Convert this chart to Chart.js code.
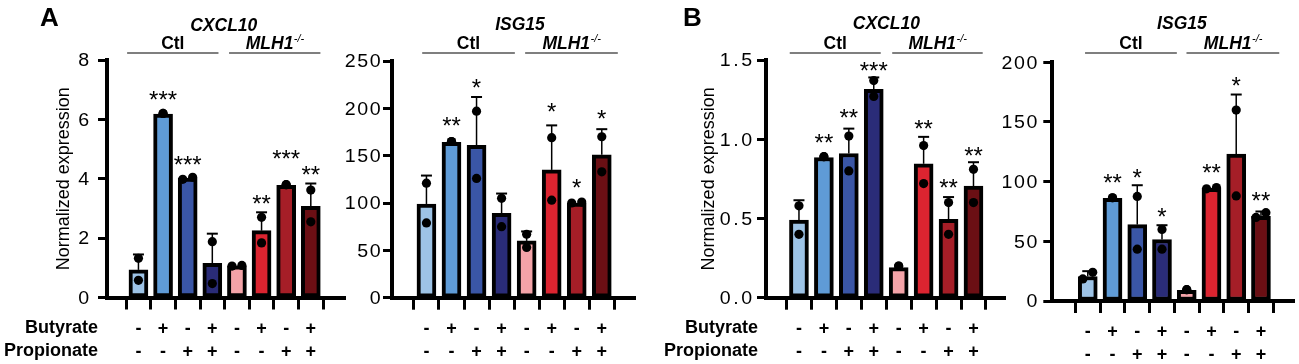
<!DOCTYPE html>
<html>
<head>
<meta charset="utf-8">
<script src="https://cdn.jsdelivr.net/npm/chart.js@4.4.1/dist/chart.umd.min.js"></script>
<style>
  html, body { margin: 0; padding: 0; background: #fff; }
  #wrap { position: relative; width: 1299px; height: 364px; overflow: hidden; }
  canvas { position: absolute; top: 0; }
</style>
</head>
<body>
<div id="wrap">
  <canvas id="c1" width="350" height="364" style="left:0px"></canvas>
  <canvas id="c2" width="300" height="364" style="left:340px"></canvas>
  <canvas id="c3" width="370" height="364" style="left:640px"></canvas>
  <canvas id="c4" width="299" height="364" style="left:1000px"></canvas>
</div>
<script>
// treatments under each bar
const butyrate   = ['-', '+', '-', '+', '-', '+', '-', '+'];
const propionate = ['-', '-', '+', '+', '-', '-', '+', '+'];

// A - CXCL10
const aCxclMean  = [0.93, 6.18, 4.02, 1.15, 1.07, 2.25, 3.78, 3.07];
const aCxclSd    = [0.52, 0, 0, 1.0, 0, 0.62, 0, 0.77];
const aCxclRep1  = [1.32, 6.2, 3.98, 1.88, 1.06, 2.70, 3.8, 3.62];
const aCxclRep2  = [0.58, 6.2, 4.05, 0.47, 1.08, 1.84, 3.8, 2.55];
const aCxclSig   = ['', '***', '***', '', '', '**', '***', '**'];
const aCxclSigAt = [0, 6.83, 4.64, 0, 0, 3.34, 4.83, 4.32];
const aCxclTicks = [0, 2, 4, 6, 8];

// A - ISG15
const aIsgMean  = [99, 164, 161, 89, 60, 135, 100, 151];
const aIsgSd    = [30, 0, 51, 21, 10, 47, 0, 27];
const aIsgRep1  = [121, 165, 197, 105, 67, 169, 100, 170];
const aIsgRep2  = [79, 165, 126, 75, 53, 103, 101, 133];
const aIsgSig   = ['', '**', '*', '', '', '*', '*', '*'];
const aIsgSigAt = [0, 187, 227, 0, 0, 201.7, 121.5, 194.8];
const aIsgTicks = [0, 50, 100, 150, 200, 250];

// B - CXCL10
const bCxclMean  = [0.49, 0.885, 0.91, 1.315, 0.19, 0.845, 0.495, 0.705];
const bCxclSd    = [0.125, 0, 0.157, 0.075, 0, 0.17, 0.14, 0.15];
const bCxclRep1  = [0.58, 0.89, 1.02, 1.37, 0.2, 0.96, 0.6, 0.81];
const bCxclRep2  = [0.4, 0.89, 0.8, 1.27, 0.2, 0.72, 0.4, 0.6];
const bCxclSig   = ['', '**', '**', '***', '', '**', '**', '**'];
const bCxclSigAt = [0, 1.012, 1.167, 1.462, 0, 1.096, 0.726, 0.927];
const bCxclTicks = [0, 0.5, 1.0, 1.5];

// B - ISG15
const bIsgMean  = [20.5, 86, 64, 51.5, 9, 94.5, 123, 71];
const bIsgSd    = [4.5, 0, 33, 12, 0, 0, 50, 4];
const bIsgRep1  = [18.5, 86.5, 87.6, 60, 9.5, 94, 160, 70];
const bIsgRep2  = [24, 86.5, 43.4, 43.4, 9.5, 95, 88, 74];
const bIsgSig   = ['', '**', '*', '*', '', '**', '*', '**'];
const bIsgSigAt = [0, 103, 107.8, 75, 0, 111.5, 184.3, 88.2];
const bIsgTicks = [0, 50, 100, 150, 200];

const barColors = ['#9dc3e6', '#5f9bd6', '#3a56a6', '#2a2c78',
                   '#f4a3a8', '#dc2430', '#a51e27', '#6b0f14'];
const FONT = '"Liberation Sans", Arial, sans-serif';
const H = 364;

const panels = [
  { id: 'c1', left: 0, width: 350, axisX: 107, axisEnd: 346.7, top: 60, bottom: 297.5,
    xMin: 0.328, xMax: 8.80, dec: 0, labelGap: 17, gene: 'CXCL10', geneY: 30.5,
    spans: [[0.54, 4.25], [4.68, 8.39]], letter: 'A', letterX: 40, ylabX: 64, rowRight: 98,
    mean: aCxclMean, sd: aCxclSd, rep1: aCxclRep1, rep2: aCxclRep2, sig: aCxclSig, sigAt: aCxclSigAt, ticks: aCxclTicks },
  { id: 'c2', left: 340, width: 300, axisX: 392, axisEnd: 635, top: 61, bottom: 297.7,
    xMin: 0.231, xMax: 8.72, dec: 0, labelGap: 10.5, gene: 'ISG15', geneY: 30,
    spans: [[0.83, 4.53], [4.94, 8.64]],
    mean: aIsgMean, sd: aIsgSd, rep1: aIsgRep1, rep2: aIsgRep2, sig: aIsgSig, sigAt: aIsgSigAt, ticks: aIsgTicks },
  { id: 'c3', left: 640, width: 370, axisX: 766, axisEnd: 1006.7, top: 60, bottom: 297.7,
    xMin: 0.278, xMax: 8.68, dec: 1, labelGap: 13, gene: 'CXCL10', geneY: 28.5,
    spans: [[0.63, 4.28], [4.74, 8.37]], letter: 'B', letterX: 683, ylabX: 709, rowRight: 758,
    mean: bCxclMean, sd: bCxclSd, rep1: bCxclRep1, rep2: bCxclRep2, sig: bCxclSig, sigAt: bCxclSigAt, ticks: bCxclTicks },
  { id: 'c4', left: 1000, width: 299, axisX: 1052.3, axisEnd: 1296, top: 62.3, bottom: 301,
    xMin: 0.178, xMax: 8.74, dec: 0, labelGap: 14, gene: 'ISG15', geneY: 28.5,
    spans: [[0.89, 4.6], [4.99, 8.74]],
    mean: bIsgMean, sd: bIsgSd, rep1: bIsgRep1, rep2: bIsgRep2, sig: bIsgSig, sigAt: bIsgSigAt, ticks: bIsgTicks }
];

function dotsFor(p) {
  const yMax = p.ticks[p.ticks.length - 1];
  const out = [];
  p.mean.forEach((m, i) => {
    const a = p.rep1[i], b = p.rep2[i];
    // side by side when the two replicates nearly overlap
    let ja = 0, jb = 0;
    if (a !== b && Math.abs(a - b) < 0.035 * yMax) {
      ja = a < b ? -0.2 : 0.2;
      jb = -ja;
    }
    out.push({ x: i + 1 + ja, y: a });
    out.push({ x: i + 1 + jb, y: b });
  });
  return out;
}

// tick numbers in the figure are loosely spaced
function drawWideNumber(ctx, text, right, base) {
  const cells = text.split('').map(ch => ch === '.' ? 9 : 12.5);
  let x = right - cells.reduce((a, b) => a + b, 0);
  ctx.font = '17.5px ' + FONT;
  ctx.textAlign = 'center';
  ctx.textBaseline = 'alphabetic';
  text.split('').forEach((ch, k) => {
    ctx.save();
    ctx.translate(x + cells[k] / 2, base);
    ctx.scale(1.12, 1);
    ctx.fillText(ch, 0, 0);
    ctx.restore();
    x += cells[k];
  });
}

function decor(p) {
  return {
    id: 'decor',
    afterDatasetsDraw(chart) {
      const ctx = chart.ctx, xs = chart.scales.x, ys = chart.scales.y;
      ctx.save();
      ctx.strokeStyle = '#000';
      p.mean.forEach((m, i) => {
        if (!p.sd[i]) return;
        const x = xs.getPixelForValue(i + 1);
        const y0 = ys.getPixelForValue(m);
        const y1 = ys.getPixelForValue(m + p.sd[i]);
        ctx.lineWidth = 1.5;
        ctx.beginPath(); ctx.moveTo(x, y0); ctx.lineTo(x, y1); ctx.stroke();
        ctx.lineWidth = 2;
        ctx.beginPath(); ctx.moveTo(x - 5.5, y1); ctx.lineTo(x + 5.5, y1); ctx.stroke();
      });
      ctx.restore();
    },
    afterDraw(chart) {
      const ctx = chart.ctx, xs = chart.scales.x, ys = chart.scales.y;
      const area = chart.chartArea;
      ctx.save();
      ctx.fillStyle = '#000';

      // y tick labels
      p.ticks.forEach(v => {
        const y = ys.getPixelForValue(v);
        drawWideNumber(ctx, v.toFixed(p.dec), area.left - p.labelGap, y + 6.3);
      });

      // significance stars
      ctx.font = '24px ' + FONT;
      ctx.textAlign = 'center';
      ctx.textBaseline = 'alphabetic';
      p.sig.forEach((s, i) => {
        if (!s) return;
        ctx.fillText(s, xs.getPixelForValue(i + 1), ys.getPixelForValue(p.sigAt[i]) + 13.3);
      });

      // group headers
      const lineY = 53;
      ctx.strokeStyle = '#555';
      ctx.lineWidth = 1.3;
      p.spans.forEach(([a, b]) => {
        ctx.beginPath();
        ctx.moveTo(xs.getPixelForValue(a), lineY);
        ctx.lineTo(xs.getPixelForValue(b), lineY);
        ctx.stroke();
      });
      const c1 = (xs.getPixelForValue(p.spans[0][0]) + xs.getPixelForValue(p.spans[0][1])) / 2;
      const c2 = (xs.getPixelForValue(p.spans[1][0]) + xs.getPixelForValue(p.spans[1][1])) / 2;
      ctx.textAlign = 'center';
      ctx.font = 'bold 17.5px ' + FONT;
      ctx.fillText('Ctl', c1, 49.3);
      ctx.font = 'italic bold 17.5px ' + FONT;
      const wMain = ctx.measureText('MLH1').width;
      ctx.font = 'italic 11px ' + FONT;
      const wSup = ctx.measureText('-/-').width;
      const x0 = c2 - (wMain + wSup) / 2;
      ctx.textAlign = 'left';
      ctx.font = 'italic bold 17.5px ' + FONT;
      ctx.fillText('MLH1', x0, 49.3);
      ctx.font = 'italic 11px ' + FONT;
      ctx.fillText('-/-', x0 + wMain + 0.5, 42);
      ctx.textAlign = 'center';
      ctx.font = 'italic bold 17.5px ' + FONT;
      ctx.fillText(p.gene, (c1 + c2) / 2, p.geneY);

      if (p.letter) {
        ctx.textAlign = 'left';
        ctx.font = 'bold 26px ' + FONT;
        ctx.fillText(p.letter, p.letterX - p.left, 25.5);

        ctx.save();
        ctx.translate(p.ylabX - p.left, (area.top + area.bottom) / 2);
        ctx.rotate(-Math.PI / 2);
        ctx.textAlign = 'center';
        ctx.textBaseline = 'middle';
        ctx.font = '18px ' + FONT;
        ctx.fillText('Normalized expression', 0, 0);
        ctx.restore();

        ctx.textAlign = 'right';
        ctx.font = 'bold 18px ' + FONT;
        ctx.fillText('Butyrate', p.rowRight - p.left, 333.3);
        ctx.fillText('Propionate', p.rowRight - p.left, 356.3);
      }
      ctx.restore();
    }
  };
}

panels.forEach(p => {
  const yMax = p.ticks[p.ticks.length - 1];
  new Chart(document.getElementById(p.id), {
    type: 'bar',
    data: {
      datasets: [
        {
          type: 'scatter',
          data: dotsFor(p),
          pointRadius: 4.6,
          pointBackgroundColor: '#000',
          pointBorderWidth: 0,
          order: 0,
          clip: false
        },
        {
          type: 'bar',
          data: p.mean.map((v, i) => ({ x: i + 1, y: v })),
          backgroundColor: barColors,
          borderColor: '#000',
          borderWidth: 4,
          borderSkipped: false,
          barThickness: 19,
          order: 1
        }
      ]
    },
    options: {
      responsive: false,
      animation: false,
      devicePixelRatio: 1,
      layout: { padding: { left: 0, top: p.top, right: p.width - (p.axisEnd - p.left), bottom: 0 } },
      plugins: { legend: { display: false }, tooltip: { enabled: false } },
      scales: {
        x: {
          type: 'linear',
          min: p.xMin,
          max: p.xMax,
          afterFit(s) { s.height = H - p.bottom; },
          border: { display: true, color: '#000', width: 4 },
          grid: { drawOnChartArea: false, drawTicks: true, tickLength: 12, tickWidth: 3, tickColor: '#000', color: '#000' },
          ticks: {
            stepSize: 1,
            includeBounds: false,
            autoSkip: false,
            maxRotation: 0,
            padding: 8,
            color: '#000',
            font: { family: FONT, size: 18, weight: 'bold', lineHeight: 23 / 18 },
            callback: v => (Number.isInteger(v) && v >= 1 && v <= 8) ? [butyrate[v - 1], propionate[v - 1]] : ''
          }
        },
        y: {
          min: 0,
          max: yMax,
          afterFit(s) { s.width = p.axisX - p.left; },
          border: { display: true, color: '#000', width: 4 },
          grid: { drawOnChartArea: false, drawTicks: true, tickLength: 9, tickWidth: 3, tickColor: '#000', color: '#000' },
          ticks: { display: false, stepSize: p.ticks[1] - p.ticks[0] }
        }
      }
    },
    plugins: [decor(p)]
  });
});
</script>
</body>
</html>
